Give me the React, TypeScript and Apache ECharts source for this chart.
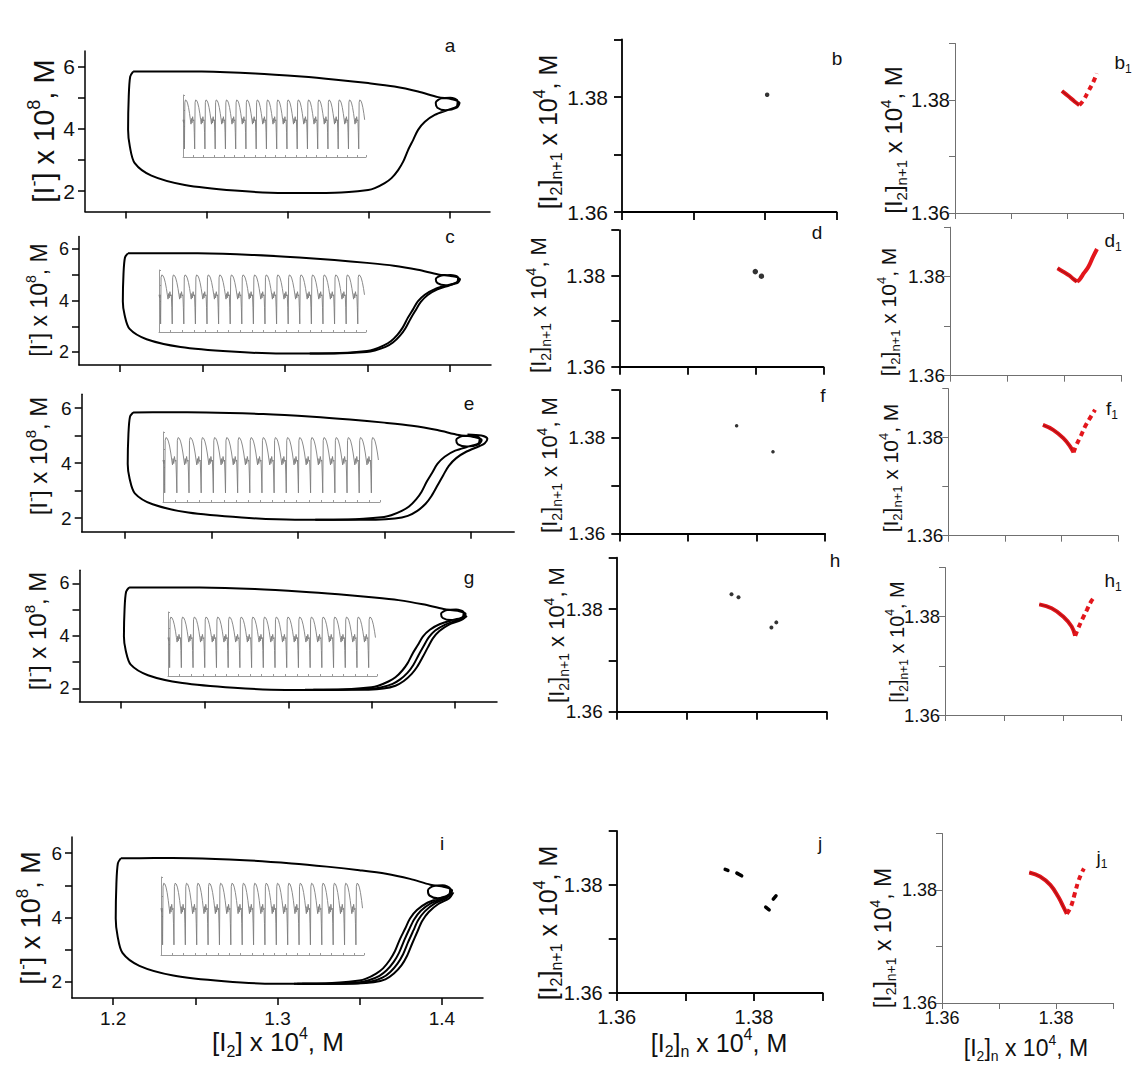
import React, { useEffect, useRef } from "react";
import * as echarts from "echarts";

const FONT = '"Liberation Sans", Arial, Helvetica, sans-serif';

// ---------- Left column: phase portraits ([I2] x 1e4 M vs [I-] x 1e8 M) ----------
const loopMain: number[][] = [
  [1.2047, 5.84], [1.225, 5.845], [1.247, 5.84], [1.28, 5.78], [1.3086, 5.68], [1.33, 5.58],
  [1.3498, 5.47], [1.366, 5.36], [1.3806, 5.2], [1.393, 5.02], [1.4015, 4.95], [1.4062, 4.84],
  [1.4045, 4.68], [1.3975, 4.6], [1.3925, 4.68], [1.3915, 4.84], [1.395, 4.98], [1.4005, 5.0],
  [1.405, 4.9], [1.4045, 4.72], [1.3992, 4.61], [1.3909, 4.45], [1.3848, 4.23], [1.3806, 3.97],
  [1.3776, 3.65], [1.3745, 3.33], [1.3714, 2.95], [1.3683, 2.68], [1.3642, 2.42], [1.36, 2.26],
  [1.3539, 2.1], [1.3498, 2.04], [1.3292, 1.95], [1.2983, 1.94], [1.2675, 2.02], [1.2366, 2.2],
  [1.216, 2.5], [1.2057, 2.9], [1.2027, 3.43], [1.2016, 3.97], [1.202, 5.04], [1.2029, 5.68],
  [1.2047, 5.84],
];
const strandC1: number[][] = [
  [1.4045, 4.72], [1.4, 4.6], [1.3925, 4.44], [1.3866, 4.22], [1.3824, 3.95], [1.3793, 3.63],
  [1.3762, 3.3], [1.373, 2.92], [1.3698, 2.64], [1.3655, 2.37], [1.361, 2.2], [1.3545, 2.06],
  [1.3495, 2.0], [1.33, 1.945], [1.315, 1.942],
];
const strandE1: number[][] = [
  [1.398, 5.04], [1.406, 5.0], [1.4095, 4.88], [1.408, 4.72], [1.405, 4.62], [1.3975, 4.42],
  [1.3915, 4.18], [1.3872, 3.9], [1.384, 3.56], [1.3808, 3.2], [1.3772, 2.8], [1.3738, 2.52],
  [1.369, 2.26], [1.3635, 2.08], [1.356, 1.98], [1.345, 1.94], [1.325, 1.94], [1.31, 1.941],
];
const strandG1: number[][] = [
  [1.4055, 4.74], [1.4015, 4.6], [1.394, 4.43], [1.388, 4.2], [1.384, 3.93], [1.381, 3.6],
  [1.378, 3.26], [1.3748, 2.88], [1.3715, 2.6], [1.367, 2.34], [1.3625, 2.17], [1.356, 2.04],
  [1.35, 1.98], [1.33, 1.945], [1.315, 1.942],
];
const strandG2: number[][] = [
  [1.407, 4.76], [1.4035, 4.6], [1.396, 4.42], [1.3905, 4.18], [1.3866, 3.9], [1.3836, 3.56],
  [1.3806, 3.2], [1.3772, 2.82], [1.3738, 2.54], [1.3692, 2.28], [1.3642, 2.1], [1.357, 1.99],
  [1.348, 1.95], [1.328, 1.942], [1.31, 1.941],
];
const strandI1: number[][] = [
  [1.4052, 4.74], [1.401, 4.6], [1.3932, 4.44], [1.3872, 4.21], [1.3831, 3.94], [1.38, 3.62],
  [1.377, 3.28], [1.3739, 2.9], [1.3707, 2.62], [1.3664, 2.36], [1.362, 2.19], [1.3555, 2.05],
  [1.35, 1.99], [1.33, 1.945], [1.315, 1.942],
];
const strandI2: number[][] = [
  [1.406, 4.76], [1.4028, 4.6], [1.3955, 4.43], [1.3896, 4.19], [1.3856, 3.92], [1.3826, 3.59],
  [1.3795, 3.24], [1.3764, 2.86], [1.373, 2.57], [1.3686, 2.31], [1.3638, 2.13], [1.357, 2.01],
  [1.349, 1.96], [1.329, 1.943], [1.312, 1.941],
];
const strandI3: number[][] = [
  [1.407, 4.78], [1.4045, 4.6], [1.3978, 4.42], [1.392, 4.17], [1.388, 3.89], [1.385, 3.55],
  [1.382, 3.2], [1.3789, 2.82], [1.3755, 2.52], [1.3708, 2.26], [1.3656, 2.08], [1.3585, 1.99],
  [1.348, 1.95], [1.328, 1.942], [1.31, 1.941],
];

// inset time series: one read oscillation period (normalised time, normalised value)
const insetLead: number[][] = [[0, 0.6], [0.06, 0.55], [0.1, 0.6], [0.14, 0.13]];
const insetCycle: number[][] = [
  [0.0, 0.88], [0.06, 0.92], [0.16, 0.91], [0.26, 0.87], [0.36, 0.8], [0.46, 0.7], [0.54, 0.6],
  [0.6, 0.53], [0.65, 0.62], [0.7, 0.55], [0.76, 0.65], [0.82, 0.58], [0.88, 0.6], [0.92, 0.4],
  [0.96, 0.13],
];
const insetPeriods = [17, 17, 17, 17, 17];

// ---------- Middle column: return maps ----------
const bPoints: number[][] = [[1.3803, 1.3804]];
const dPoints: number[][] = [[1.38, 1.3809], [1.3809, 1.3799]];
const fPoints: number[][] = [[1.3771, 1.3825], [1.3824, 1.3771]];
const hPoints: number[][] = [[1.3764, 1.3829], [1.3774, 1.3823], [1.3821, 1.3764], [1.3828, 1.3774]];
const jSegments: number[][][] = [
  [[1.3758, 1.3829], [1.3762, 1.3827]],
  [[1.3775, 1.3822], [1.3782, 1.3817]],
  [[1.3817, 1.3759], [1.3822, 1.3754]],
  [[1.3828, 1.3774], [1.3832, 1.378]],
];

// ---------- Right column: return maps (red) ----------
const b1Left: number[][] = [[1.3791, 1.3816], [1.3802, 1.3807], [1.3814, 1.3797], [1.3822, 1.3791]];
const b1Right: number[][] = [[1.3822, 1.3791], [1.3829, 1.3799], [1.3838, 1.3815], [1.3847, 1.3832], [1.3853, 1.3847]];
const d1Left: number[][] = [[1.3788, 1.3817], [1.3798, 1.381], [1.3809, 1.3802], [1.3816, 1.3795], [1.3822, 1.379]];
const d1Right: number[][] = [[1.3822, 1.379], [1.3827, 1.3795], [1.3834, 1.3807], [1.3842, 1.382], [1.385, 1.384], [1.3857, 1.3856]];
const f1Left: number[][] = [[1.3767, 1.3826], [1.3785, 1.3816], [1.3803, 1.3799], [1.3815, 1.3782], [1.3821, 1.377]];
const f1Right: number[][] = [[1.3821, 1.377], [1.3826, 1.3785], [1.3834, 1.3804], [1.3841, 1.3822], [1.385, 1.384], [1.3859, 1.3857]];
const h1Left: number[][] = [[1.376, 1.3825], [1.3781, 1.3817], [1.3801, 1.38], [1.3815, 1.378], [1.3821, 1.3761]];
const h1Right: number[][] = [[1.3821, 1.3761], [1.3826, 1.3776], [1.3834, 1.3797], [1.3841, 1.3814], [1.3848, 1.3831], [1.3855, 1.3842]];
const j1Left: number[][] = [[1.3753, 1.3831], [1.3772, 1.3824], [1.379, 1.3809], [1.3804, 1.3788], [1.3813, 1.377], [1.3819, 1.3758]];
const j1Right: number[][] = [[1.3819, 1.3758], [1.3826, 1.377], [1.3833, 1.3794], [1.3839, 1.3815], [1.3845, 1.383], [1.3849, 1.3838]];

// ---------- ticks ----------
const leftYTicks = [2, 3, 4, 5, 6];
const leftYLabels = [2, 4, 6];
const leftXTicks = [1.2, 1.25, 1.3, 1.35, 1.4];
const leftXLabels = [1.2, 1.3, 1.4];
const mapTicks = [1.36, 1.37, 1.38, 1.39];
const mapLabels = [1.36, 1.38];

function richStyles(F: number) {
  const s = Math.round(F * 0.62);
  return {
    n: { fontSize: F, fontFamily: FONT, fill: "#111", color: "#111", lineHeight: Math.round(F * 1.3), verticalAlign: "middle" },
    sup: { fontSize: s, fontFamily: FONT, fill: "#111", color: "#111", lineHeight: s, verticalAlign: "top" },
    sub: { fontSize: s, fontFamily: FONT, fill: "#111", color: "#111", lineHeight: s, verticalAlign: "bottom" },
  };
}

const TXT_LEFT_Y = "{n|[I}{sup|-}{n|] x 10}{sup|8}{n|, M}";
const TXT_MAP_Y = "{n|[I}{sub|2}{n|]}{sub|n+1}{n| x 10}{sup|4}{n|, M}";
const TXT_LEFT_X = "{n|[I}{sub|2}{n|] x 10}{sup|4}{n|, M}";
const TXT_MAP_X = "{n|[I}{sub|2}{n|]}{sub|n}{n| x 10}{sup|4}{n|, M}";

export default function App() {
  const ref = useRef<HTMLDivElement>(null);

  useEffect(() => {
    if (!ref.current) return;
    const chart = echarts.init(ref.current, null, { renderer: "svg" });

    const grids: any[] = [];
    const xAxes: any[] = [];
    const yAxes: any[] = [];
    const series: any[] = [];
    const graphic: any[] = [];

    const addGrid = (g: any, xa: any, ya: any) => {
      const i = grids.length;
      grids.push({ left: g.left, top: g.top, width: g.width, height: g.height, containLabel: false });
      xAxes.push({ type: "value", gridIndex: i, splitLine: { show: false }, ...xa });
      yAxes.push({ type: "value", gridIndex: i, splitLine: { show: false }, ...ya });
      return i;
    };

    const label = (x: number, y: number, text: string, F: number, rotate = false) => {
      graphic.push({
        type: "text",
        x,
        y,
        rotation: rotate ? Math.PI / 2 : 0,
        silent: true,
        style: { text, rich: richStyles(F), align: "center", verticalAlign: "middle", fontSize: F, fontFamily: FONT, fill: "#111" },
      });
    };

    // ---------- left column ----------
    const leftPanels = [
      { left: 85, top: 51, width: 405, height: 160.5, ymin: 1.35, fs: 21, showX: false, strands: [] as number[][][], letter: "a", lx: 450, ly: 45, tx: 44, ty: 131, tf: 29,
        inset: { left: 183, top: 95, width: 183, height: 62 } },
      { left: 79, top: 236.4, width: 412, height: 128.5, ymin: 1.5, fs: 18, showX: false, strands: [strandC1], letter: "c", lx: 450, ly: 236, tx: 39, ty: 300, tf: 23,
        inset: { left: 159, top: 270, width: 207, height: 62 } },
      { left: 81.7, top: 394.3, width: 432.5, height: 137.5, ymin: 1.5, fs: 19, showX: false, strands: [strandE1], letter: "e", lx: 469, ly: 403, tx: 38, ty: 456, tf: 24,
        inset: { left: 163, top: 432, width: 217, height: 70 } },
      { left: 79.5, top: 570.2, width: 417.5, height: 131.25, ymin: 1.5, fs: 18, showX: false, strands: [strandG1, strandG2], letter: "g", lx: 469, ly: 577, tx: 37, ty: 631, tf: 24,
        inset: { left: 168, top: 612, width: 209, height: 64 } },
      { left: 72, top: 837, width: 411, height: 161, ymin: 1.5, fs: 19, showX: true, strands: [strandI1, strandI2, strandI3], letter: "i", lx: 442, ly: 843, tx: 31, ty: 918, tf: 27,
        inset: { left: 161, top: 877, width: 203, height: 78 } },
    ];

    const blackLine = { lineStyle: { color: "#000", width: 1.5 } };

    leftPanels.forEach((p, idx) => {
      const gi = addGrid(
        p,
        {
          min: 1.175,
          max: 1.425,
          axisLine: { show: true, onZero: false, ...blackLine },
          axisTick: { show: true, customValues: leftXTicks, length: 7, inside: false, ...blackLine },
          axisLabel: {
            show: p.showX,
            customValues: leftXLabels,
            formatter: (v: number) => v.toFixed(1),
            fontSize: p.fs,
            fontFamily: FONT,
            color: "#111",
            margin: 11,
          },
        },
        {
          min: p.ymin,
          max: 6.5,
          axisLine: { show: true, onZero: false, ...blackLine },
          axisTick: { show: true, customValues: leftYTicks, length: 7, inside: false, ...blackLine },
          axisLabel: {
            customValues: leftYLabels,
            formatter: (v: number) => String(Math.round(v)),
            fontSize: p.fs,
            fontFamily: FONT,
            color: "#111",
            margin: 10,
          },
        }
      );
      const lineSeries = (data: number[][]) => ({
        type: "line",
        xAxisIndex: gi,
        yAxisIndex: gi,
        data,
        showSymbol: false,
        smooth: 0.3,
        silent: true,
        lineStyle: { color: "#000", width: 2 },
      });
      series.push(lineSeries(loopMain));
      p.strands.forEach((s) => series.push(lineSeries(s)));

      // inset
      const n = insetPeriods[idx];
      const pts: number[][] = insetLead.map((q) => [q[0], q[1]]);
      for (let k = 0; k < n; k++) {
        insetCycle.forEach((q) => pts.push([0.18 + k + q[0], q[1]]));
      }
      insetCycle.filter((q) => q[0] <= 0.56).forEach((q) => pts.push([0.18 + n + q[0], q[1]]));
      const gray = { lineStyle: { color: "#9a9a9a", width: 1 } };
      const ii = addGrid(
        p.inset,
        {
          min: 0,
          max: n + 0.85,
          interval: 1,
          axisLine: { show: true, onZero: false, ...gray },
          axisTick: { show: true, inside: true, length: 2, ...gray },
          axisLabel: { show: false },
        },
        {
          min: 0,
          max: 1,
          interval: 0.25,
          axisLine: { show: true, onZero: false, ...gray },
          axisTick: { show: true, inside: true, length: 2, ...gray },
          axisLabel: { show: false },
        }
      );
      series.push({
        type: "line",
        xAxisIndex: ii,
        yAxisIndex: ii,
        data: pts,
        showSymbol: false,
        silent: true,
        lineStyle: { color: "#7d7d7d", width: 0.9 },
      });

      label(p.lx, p.ly, `{n|${p.letter}}`, 19);
      label(p.tx, p.ty, TXT_LEFT_Y, p.tf, true);
    });
    label(278, 1042, TXT_LEFT_X, 26);

    // ---------- middle column ----------
    const midPanels = [
      { left: 622, top: 39.5, width: 214.5, height: 172.5, fs: 21, showX: false, pts: bPoints, size: 4.5, letter: "b", lx: 837, ly: 58, tx: 548, ty: 132, tf: 25 },
      { left: 619.3, top: 230.2, width: 204, height: 136.5, fs: 20, showX: false, pts: dPoints, size: 5.5, letter: "d", lx: 817, ly: 232, tx: 538, ty: 305, tf: 22 },
      { left: 619.3, top: 390, width: 205.8, height: 143.4, fs: 19, showX: false, pts: fPoints, size: 3.5, letter: "f", lx: 823, ly: 395, tx: 549, ty: 465, tf: 22 },
      { left: 616.7, top: 557.7, width: 210, height: 154, fs: 19, showX: false, pts: hPoints, size: 4, letter: "h", lx: 835, ly: 560, tx: 556, ty: 635, tf: 22 },
      { left: 616.7, top: 831, width: 206, height: 162, fs: 20, showX: true, pts: [] as number[][], size: 4, letter: "j", lx: 820, ly: 843, tx: 548, ty: 923, tf: 25 },
    ];
    const midLine = { lineStyle: { color: "#000", width: 1.8 } };
    midPanels.forEach((p) => {
      const gi = addGrid(
        p,
        {
          min: 1.36,
          max: 1.39,
          axisLine: { show: true, onZero: false, ...midLine },
          axisTick: { show: true, customValues: mapTicks, length: 8, ...midLine },
          axisLabel: {
            show: p.showX,
            customValues: mapLabels,
            formatter: (v: number) => v.toFixed(2),
            fontSize: p.fs,
            fontFamily: FONT,
            color: "#111",
            margin: 14,
          },
        },
        {
          min: 1.36,
          max: 1.39,
          axisLine: { show: true, onZero: false, ...midLine },
          axisTick: { show: true, customValues: mapTicks, length: 8, ...midLine },
          axisLabel: {
            customValues: mapLabels,
            formatter: (v: number) => v.toFixed(2),
            fontSize: p.fs,
            fontFamily: FONT,
            color: "#111",
            margin: 14,
          },
        }
      );
      if (p.pts.length) {
        series.push({
          type: "scatter",
          xAxisIndex: gi,
          yAxisIndex: gi,
          data: p.pts,
          symbolSize: p.size,
          silent: true,
          itemStyle: { color: "#000" },
        });
      }
      if (p.letter === "j") {
        jSegments.forEach((seg) =>
          series.push({
            type: "line",
            xAxisIndex: gi,
            yAxisIndex: gi,
            data: seg,
            showSymbol: false,
            silent: true,
            lineStyle: { color: "#000", width: 3.5, cap: "round" },
          })
        );
      }
      label(p.lx, p.ly, `{n|${p.letter}}`, 19);
      label(p.tx, p.ty, TXT_MAP_Y, p.tf, true);
    });
    label(719, 1043, TXT_MAP_X, 25);

    // ---------- right column ----------
    const rightPanels = [
      { left: 955, top: 43.5, width: 168, height: 169.5, fs: 20, showX: false, L: b1Left, R: b1Right, dashed: true, letter: "b", lx: 1123, ly: 62, tx: 893, ty: 140, tf: 24 },
      { left: 950, top: 227.2, width: 171.6, height: 148.5, fs: 19, showX: false, L: d1Left, R: d1Right, dashed: false, letter: "d", lx: 1113, ly: 240, tx: 888, ty: 312, tf: 21 },
      { left: 948.3, top: 388.7, width: 170, height: 147, fs: 19, showX: false, L: f1Left, R: f1Right, dashed: true, letter: "f", lx: 1112, ly: 408, tx: 890, ty: 468, tf: 21 },
      { left: 945, top: 567.5, width: 176.7, height: 147.5, fs: 18.5, showX: false, L: h1Left, R: h1Right, dashed: true, letter: "h", lx: 1113, ly: 580, tx: 897, ty: 642, tf: 20 },
      { left: 942, top: 833.5, width: 171, height: 169.5, fs: 18, showX: true, L: j1Left, R: j1Right, dashed: true, letter: "j", lx: 1102, ly: 857, tx: 883, ty: 938, tf: 23 },
    ];
    const grayLine = { lineStyle: { color: "#707070", width: 1 } };
    rightPanels.forEach((p) => {
      const gi = addGrid(
        p,
        {
          min: 1.36,
          max: 1.39,
          axisLine: { show: true, onZero: false, ...grayLine },
          axisTick: { show: true, customValues: mapTicks, length: 6, ...grayLine },
          axisLabel: {
            show: p.showX,
            customValues: mapLabels,
            formatter: (v: number) => v.toFixed(2),
            fontSize: p.fs,
            fontFamily: FONT,
            color: "#111",
            margin: 6,
          },
        },
        {
          min: 1.36,
          max: 1.39,
          axisLine: { show: true, onZero: false, ...grayLine },
          axisTick: { show: true, customValues: mapTicks, length: 6, ...grayLine },
          axisLabel: {
            customValues: mapLabels,
            formatter: (v: number) => v.toFixed(2),
            fontSize: p.fs,
            fontFamily: FONT,
            color: "#111",
            margin: 5,
          },
        }
      );
      series.push({
        type: "line",
        xAxisIndex: gi,
        yAxisIndex: gi,
        data: p.L,
        showSymbol: false,
        smooth: 0.4,
        silent: true,
        lineStyle: { color: "#e3161c", width: 4 },
      });
      series.push({
        type: "line",
        xAxisIndex: gi,
        yAxisIndex: gi,
        data: p.L,
        showSymbol: false,
        smooth: 0.4,
        silent: true,
        lineStyle: { color: "#9e0f12", width: 1.2, opacity: 0.8 },
      });
      series.push({
        type: "line",
        xAxisIndex: gi,
        yAxisIndex: gi,
        data: p.R,
        showSymbol: false,
        smooth: 0.4,
        silent: true,
        lineStyle: { color: "#e3161c", width: 4, type: p.dashed ? [5, 4] : "solid" },
      });
      label(p.lx, p.ly, `{n|${p.letter}}{sub|1}`, 19);
      label(p.tx, p.ty, TXT_MAP_Y, p.tf, true);
    });
    label(1026, 1048, TXT_MAP_X, 23);

    chart.setOption({
      animation: false,
      backgroundColor: "#fff",
      textStyle: { fontFamily: FONT },
      grid: grids,
      xAxis: xAxes,
      yAxis: yAxes,
      series,
      graphic: { elements: graphic },
    });

    return () => chart.dispose();
  }, []);

  return (
    <div
      ref={ref}
      style={{ position: "absolute", left: 0, top: 0, width: 1137, height: 1071, background: "#fff" }}
    />
  );
}
